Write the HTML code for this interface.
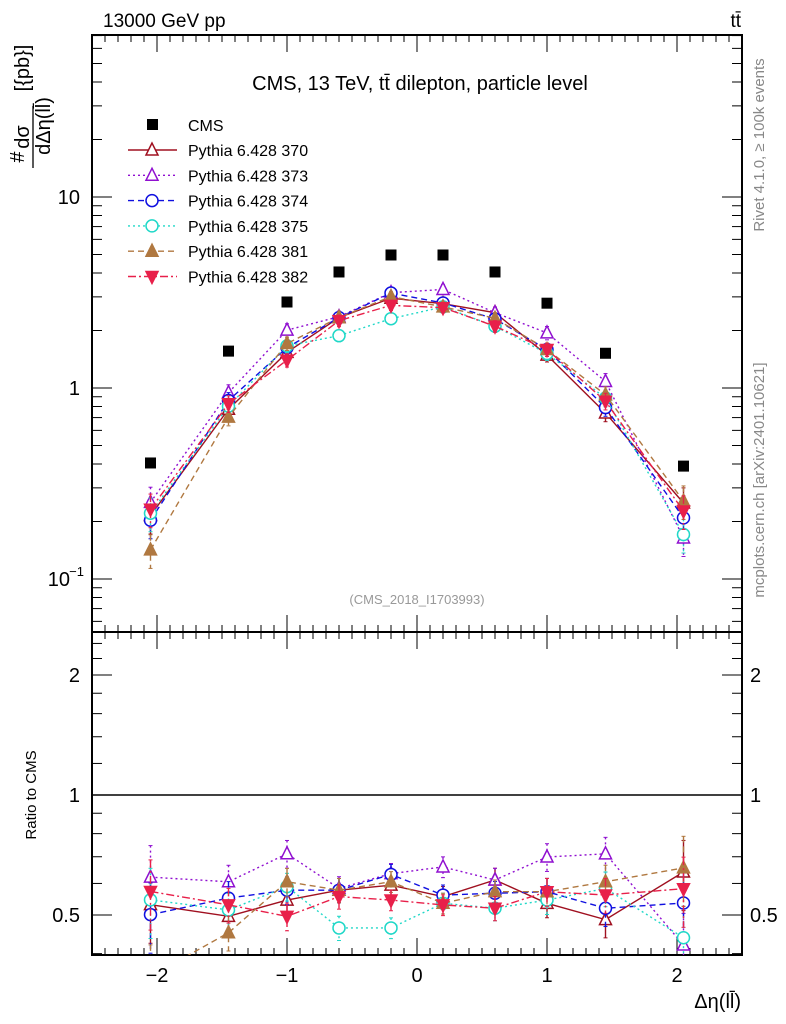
<!DOCTYPE html>
<html><head><meta charset="utf-8"><style>
html,body{margin:0;padding:0;background:#fff}
svg{display:block;font-family:"Liberation Sans",sans-serif}
</style></head><body>
<svg id="chart" width="786" height="1024" viewBox="0 0 786 1024" xmlns="http://www.w3.org/2000/svg">
<text x="103" y="27" font-size="19">13000 GeV pp</text>
<text x="741" y="27" font-size="19" text-anchor="end">tt̄</text>
<text x="420" y="90" font-size="20" text-anchor="middle">CMS, 13 TeV, tt̄ dilepton, particle level</text>
<text x="417" y="604" font-size="13" fill="#999" text-anchor="middle">(CMS_2018_I1703993)</text>
<text transform="translate(764,145) rotate(-90)" font-size="15" fill="#888" text-anchor="middle">Rivet 4.1.0, ≥ 100k events</text>
<text transform="translate(764,480) rotate(-90)" font-size="15" fill="#888" text-anchor="middle">mcplots.cern.ch [arXiv:2401.10621]</text>
<g font-size="20">
<text transform="translate(24,157) rotate(-90)" text-anchor="middle">#</text>
<line x1="33" y1="168" x2="33" y2="106" stroke="#000" stroke-width="1.3"/>
<text transform="translate(29,137) rotate(-90)" text-anchor="middle">dσ</text>
<text transform="translate(50,126) rotate(-90)" text-anchor="middle">dΔη(ll̄)</text>
<text transform="translate(29,68) rotate(-90)" text-anchor="middle">[{pb}]</text>
</g>
<text transform="translate(36,795) rotate(-90)" font-size="15" text-anchor="middle">Ratio to CMS</text>
<text x="741" y="1008" font-size="20" text-anchor="end">Δη(ll̄)</text>
<g id="g"></g>
</svg>
<script>
const xs=[-2.05,-1.45,-1.0,-0.6,-0.2,0.2,0.6,1.0,1.45,2.05];
const cms=[0.405,1.56,2.82,4.05,4.97,4.97,4.05,2.78,1.52,0.39];
const p370=[0.215,0.774,1.537,2.337,2.952,2.763,2.479,1.487,0.740,0.250];
const p373=[0.252,0.945,2.008,2.361,3.156,3.28,2.479,1.943,1.082,0.164];
const p374=[0.203,0.860,1.627,2.337,3.141,2.788,2.296,1.59,0.790,0.209];
const p375=[0.221,0.803,1.661,1.879,2.306,2.659,2.106,1.515,0.886,0.171];
const p381=[0.142,0.704,1.709,2.337,3.012,2.659,2.317,1.59,0.921,0.256];
const p382=[0.232,0.827,1.399,2.252,2.709,2.634,2.106,1.59,0.853,0.227];
const relErr=[0.2,0.1,0.08,0.07,0.06,0.06,0.07,0.08,0.1,0.2];
const series=[
 {name:'Pythia 6.428 370',v:p370,c:'#a01020',dash:'',m:'tri',fill:false},
 {name:'Pythia 6.428 373',v:p373,c:'#9010d0',dash:'2,3',m:'tri',fill:false},
 {name:'Pythia 6.428 374',v:p374,c:'#1010e0',dash:'6,4',m:'circ',fill:false},
 {name:'Pythia 6.428 375',v:p375,c:'#20d8c8',dash:'2,3',m:'circ',fill:false},
 {name:'Pythia 6.428 381',v:p381,c:'#b07840',dash:'6,4',m:'tri',fill:true},
 {name:'Pythia 6.428 382',v:p382,c:'#e8204a',dash:'8,3,2,3',m:'itri',fill:true}];
const NS='http://www.w3.org/2000/svg';
const g=document.getElementById('g');
function el(t,a,p){const e=document.createElementNS(NS,t);for(const k in a)e.setAttribute(k,a[k]);(p||g).appendChild(e);return e;}
const L=92,R=742,T=35,M=632,B=955;
const X=v=>L+(v+2.5)/5*(R-L);
const Y=v=>197-(Math.log10(v)-1)*191;
const YR=v=>795-Math.log2(v)*120;
const defs=el('defs',{});
const c1=el('clipPath',{id:'cm'},defs);el('rect',{x:L,y:T,width:R-L,height:M-T},c1);
const c2=el('clipPath',{id:'cr'},defs);el('rect',{x:L,y:M,width:R-L,height:B-M},c2);
const f1=el('rect',{x:L,y:T,width:R-L,height:M-T,fill:'none',stroke:'#000','stroke-width':2});

const f2=el('rect',{x:L,y:M,width:R-L,height:B-M,fill:'none',stroke:'#000','stroke-width':2});

for(let i=-25;i<=25;i++){const v=i/10;const x=X(v);const maj=i%10===0;const len=maj?17:7;
 for(const [yt,yb] of [[T,M],[M,B]]){el('line',{x1:x,y1:yt,x2:x,y2:yt+len,stroke:'#000'});el('line',{x1:x,y1:yb,x2:x,y2:yb-len,stroke:'#000'});}}
const xl=[-2,-1,0,1,2],xlt=['−2','−1','0','1','2'];
xl.forEach((v,i)=>{const t=el('text',{x:X(v),y:982,'font-size':20,'text-anchor':'middle'});t.textContent=xlt[i];
});
for(let d=-2;d<=1;d++)for(let k=1;k<10;k++){const v=k*Math.pow(10,d);const y=Y(v);if(y<T||y>M)continue;const len=k===1?20:10;
 el('line',{x1:L,y1:y,x2:L+len,y2:y,stroke:'#000'});el('line',{x1:R,y1:y,x2:R-len,y2:y,stroke:'#000'});}
[[10,'10'],[1,'1']].forEach(([v,s])=>{const t=el('text',{x:80,y:Y(v)+7,'font-size':20,'text-anchor':'end'});t.textContent=s;
});
{const t=el('text',{x:70,y:Y(0.1)+7,'font-size':20,'text-anchor':'end'});t.textContent='10';

const s=el('text',{x:84,y:Y(0.1)-3,'font-size':13,'text-anchor':'end'});s.textContent='−1';}
[0.4,0.5,0.6,0.7,0.8,0.9,1,1.2,1.4,1.6,1.8,2,2.2,2.4].forEach(v=>{const y=YR(v);const maj=(v===0.5||v===1||v===2);const len=maj?20:10;
 el('line',{x1:L,y1:y,x2:L+len,y2:y,stroke:'#000'});el('line',{x1:R,y1:y,x2:R-len,y2:y,stroke:'#000'});});
[[2,'2'],[1,'1'],[0.5,'0.5']].forEach(([v,s])=>{for(const [x,a] of [[80,'end'],[750,'start']]){const t=el('text',{x:x,y:YR(v)+7,'font-size':20,'text-anchor':a});t.textContent=s;
}});
el('line',{x1:L,y1:YR(1),x2:R,y2:YR(1),stroke:'#000','stroke-width':1.5});
function marker(s,x,y,p){const r=6;
 if(s.m==='circ')return el('circle',{cx:x,cy:y,r:r,fill:s.fill?s.c:'#fff',stroke:s.c,'stroke-width':1.5},p);
 if(s.m==='tri')return el('polygon',{points:`${x},${y-r-1} ${x-r},${y+r-1} ${x+r},${y+r-1}`,fill:s.fill?s.c:'#fff',stroke:s.c,'stroke-width':1.5},p);
 return el('polygon',{points:`${x},${y+r+1} ${x-r},${y-r+1} ${x+r},${y-r+1}`,fill:s.c,stroke:s.c,'stroke-width':1.5},p);}
const gm=el('g',{'clip-path':'url(#cm)'});const gr=el('g',{'clip-path':'url(#cr)'});
series.forEach((s,si)=>{
 const pm=el('g',{},gm);
 const pr=el('g',{},gr);
 const ratio=s.v.map((v,i)=>v/cms[i]);
 el('polyline',{points:xs.map((x,i)=>X(x)+','+Y(s.v[i])).join(' '),fill:'none',stroke:s.c,'stroke-width':1.4,'stroke-dasharray':s.dash},pm);
 el('polyline',{points:xs.map((x,i)=>X(x)+','+YR(ratio[i])).join(' '),fill:'none',stroke:s.c,'stroke-width':1.4,'stroke-dasharray':s.dash},pr);
 xs.forEach((x,i)=>{const e=relErr[i];
  for(const [p,f,v] of [[pm,Y,s.v[i]],[pr,YR,ratio[i]]]){
   el('line',{x1:X(x),x2:X(x),y1:f(v*(1+e)),y2:f(v*(1-e)),stroke:s.c,'stroke-width':1.4,'stroke-dasharray':s.dash},p);
   el('line',{x1:X(x)-2,x2:X(x)+2,y1:f(v*(1+e)),y2:f(v*(1+e)),stroke:s.c},p);
   el('line',{x1:X(x)-2,x2:X(x)+2,y1:f(v*(1-e)),y2:f(v*(1-e)),stroke:s.c},p);
   const mk=marker(s,X(x),f(v),p);}});
 const ly=150+si*25.3;
 const le=el('g',{});
 el('line',{x1:128,x2:177,y1:ly,y2:ly,stroke:s.c,'stroke-width':1.4,'stroke-dasharray':s.dash},le);
 marker(s,152,ly,le);
 const t=el('text',{x:188,y:ly+6,'font-size':16},le);t.textContent=s.name;});
const gc=el('g',{},gm);
xs.forEach((x,i)=>{const r=el('rect',{x:X(x)-5.5,y:Y(cms[i])-5.5,width:11,height:11,fill:'#000'},gc);
});
{const le=el('g',{});
el('rect',{x:147,y:119,width:11,height:11,fill:'#000'},le);const t=el('text',{x:188,y:131,'font-size':16},le);t.textContent='CMS';}
</script>
</body></html>
